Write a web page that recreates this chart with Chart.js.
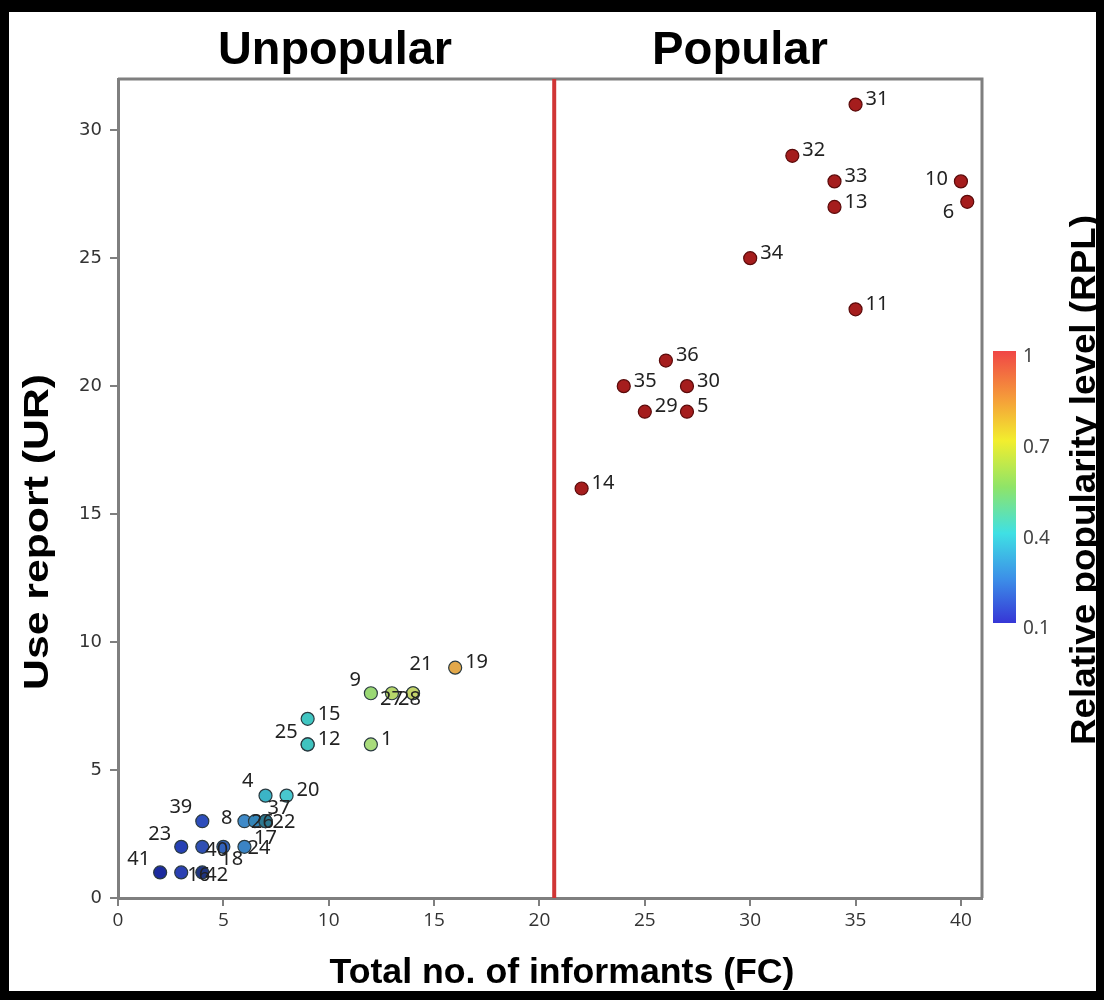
<!DOCTYPE html>
<html><head><meta charset="utf-8">
<script src="https://cdn.jsdelivr.net/npm/chart.js@4"></script>
<style>
html,body{margin:0;padding:0;background:#fff;}
#wrap{position:relative;width:1104px;height:1000px;overflow:hidden;}
canvas{position:absolute;left:0;top:0;}
#frame{position:absolute;left:0;top:0;width:1104px;height:1000px;box-sizing:border-box;border-style:solid;border-color:#000;border-width:12px 8px 9px 9px;pointer-events:none;}
</style></head><body>
<div id="wrap"><canvas id="c" width="1104" height="1000"></canvas><div id="frame"></div></div>
<script>
// ---- data ----
const ids = ['31','32','33','13','10','6','34','11','36','35','30','29','5','14',
             '19','21','28','27','9','15','12','25','1','4','20','39','8','26','22','37','17','23','40','18','24','41','16','42'];
const fc  = [35,32,34,34,40,40.3,30,35,26,24,27,25,27,22,
             16,14,14,13,12,9,9,9,12,7,8,4,6,6.5,7,7,7,3,4,5,6,2,3,4];
const ur  = [31,29,28,27,28,27.2,25,23,21,20,20,19,19,16,
             9,8,8,8,8,7,6,6,6,4,4,3,3,3,3,3,3,2,2,2,2,1,1,1];
const dotColors = ['#a51d1d','#a51d1d','#a51d1d','#a51d1d','#a51d1d','#a51d1d','#a51d1d','#a51d1d','#a51d1d','#a51d1d','#a51d1d','#a51d1d','#a51d1d','#a51d1d',
             '#e2a84a','#c4d46a','#c4d46a','#b6d66a','#9ad874','#40c6c2','#3fc3bf','#3fc3bf','#a9dc7c','#3bb4c6','#48c8cf','#2d4dbb','#3f8ac8','#3485b8','#2c7890','#2c7890','#2c7890','#2540b4','#2f4fb3','#3262bb','#3b84c5','#1b2a9e','#2a40b2','#1f3580'];
const xTicks = [0,5,10,15,20,25,30,35,40];
const yTicks = [0,5,10,15,20,25,30];
const xRange = [0,41];
const yRange = [0,32];
const divideFC = 20.7;
const rplTicks = ['1','0.7','0.4','0.1'];
const rplRange = [1,0.1];
const groupTitles = ['Unpopular','Popular'];
const xTitle = 'Total no. of informants (FC)';
const yTitle = 'Use report (UR)';
const cbTitle = 'Relative popularity level (RPL)';

// ---- label placement (style) ----
const labelPlace = {
  '10':[-13,-2,'right'], '6':[-13,10,'right'], '9':[-10,-13,'right'], '21':[8,-29,'center'],
  '27':[-12,6,'left'], '28':[-15,6,'left'], '25':[-10,-12,'right'], '4':[-12,-14,'right'],
  '37':[2,-13,'left'], '39':[-10,-14,'right'], '8':[-12,-3,'right'], '26':[-4,1,'left'],
  '22':[7,1,'left'], '17':[0,17,'center'], '23':[-10,-13,'right'], '40':[3,3,'left'],
  '18':[-3,12,'left'], '24':[3,1,'left'], '41':[-10,-13,'right'], '16':[6,3,'left'], '42':[3,3,'left']
};
const defaultPlace = [10,-5,'left'];

const points = ids.map((id,i)=>({x:fc[i], y:ur[i], id}));
const AXIS = '#7f7f7f';

function stretchedText(ctx, text, x, y, targetLen){
  const w = ctx.measureText(text).width;
  ctx.save();
  ctx.translate(x, y);
  ctx.scale(targetLen / w, 1);
  ctx.fillText(text, 0, 0);
  ctx.restore();
}

const decor = {
  id:'decor',
  beforeDatasetsDraw(chart){
    const {ctx, chartArea:a} = chart;
    ctx.save();
    ctx.strokeStyle = AXIS; ctx.lineWidth = 3;
    ctx.beginPath();
    ctx.moveTo(a.left, a.top); ctx.lineTo(a.right, a.top); ctx.lineTo(a.right, a.bottom);
    ctx.stroke();
    ctx.restore();
  },
  afterDraw(chart){
    const {ctx, chartArea:a} = chart;
    ctx.save();
    // point labels
    const meta = chart.getDatasetMeta(1);
    ctx.font = '20px "Noto Sans"';
    ctx.fillStyle = '#222';
    ctx.textBaseline = 'middle';
    meta.data.forEach((el,i)=>{
      const id = ids[i];
      const p = labelPlace[id] || defaultPlace;
      ctx.textAlign = p[2];
      ctx.fillText(id, el.x + p[0], el.y + p[1]);
    });
    // group titles
    ctx.fillStyle = '#000';
    ctx.font = 'bold 46px "Liberation Sans"';
    ctx.textAlign = 'center'; ctx.textBaseline = 'alphabetic';
    stretchedText(ctx, groupTitles[0], 335, 64, 234);
    stretchedText(ctx, groupTitles[1], 740, 64, 176);
    // axis titles
    ctx.font = 'bold 35px "Liberation Sans"';
    stretchedText(ctx, xTitle, 562, 983, 465);
    ctx.save();
    ctx.translate(38, 532); ctx.rotate(-Math.PI/2);
    ctx.textBaseline = 'middle';
    stretchedText(ctx, yTitle, 0, 0, 316);
    ctx.restore();
    ctx.save();
    ctx.translate(1085, 480); ctx.rotate(-Math.PI/2);
    ctx.textBaseline = 'middle';
    stretchedText(ctx, cbTitle, 0, 0, 530);
    ctx.restore();
    // colorbar
    const cbx = 993, cbw = 23, cbTop = 351, cbBot = 623;
    const g = ctx.createLinearGradient(0, cbTop, 0, cbBot);
    g.addColorStop(0, '#f04646');
    g.addColorStop(0.17, '#f59a3a');
    g.addColorStop(0.33, '#f2ee2e');
    g.addColorStop(0.5, '#8fe468');
    g.addColorStop(0.67, '#3fe0e4');
    g.addColorStop(0.84, '#3c8ee8');
    g.addColorStop(1, '#3636d6');
    ctx.fillStyle = g;
    ctx.fillRect(cbx, cbTop, cbw, cbBot-cbTop);
    ctx.font = '19px "Noto Sans"';
    ctx.fillStyle = '#444';
    ctx.textAlign = 'left'; ctx.textBaseline = 'middle';
    rplTicks.forEach(t=>{
      const v = parseFloat(t);
      const y = cbTop + (rplRange[0]-v)/(rplRange[0]-rplRange[1])*(cbBot-cbTop);
      ctx.fillText(t, 1023, y + 6);
    });
    ctx.restore();
  }
};

new Chart(document.getElementById('c'), {
  type:'scatter',
  data:{datasets:[
    {type:'line', data:[{x:divideFC,y:yRange[0]},{x:divideFC,y:yRange[1]}], borderColor:'#d03535', borderWidth:4, pointRadius:0, order:2},
    {data:points, backgroundColor:dotColors, borderColor: dotColors.map(c=> c==='#a51d1d' ? '#5a0a0a' : '#2a3a40'), borderWidth:1.2, pointRadius:6.5, order:1}
  ]},
  options:{
    responsive:false, devicePixelRatio:1, animation:false,
    layout:{padding:{top:79, right:122, left:0, bottom:0}},
    plugins:{legend:{display:false}, tooltip:{enabled:false}},
    scales:{
      x:{type:'linear', min:xRange[0], max:xRange[1],
         afterBuildTicks:s=>{s.ticks = xTicks.map(v=>({value:v}));},
         afterFit:s=>{s.height = 102;},
         ticks:{font:{family:'Open Sans', size:19}, color:'#333', padding:3, maxRotation:0, autoSkip:false},
         grid:{drawOnChartArea:false, drawTicks:true, tickLength:8, color:AXIS, lineWidth:2},
         border:{display:true, color:AXIS, width:3}},
      y:{type:'linear', min:yRange[0], max:yRange[1],
         afterBuildTicks:s=>{s.ticks = yTicks.map(v=>({value:v}));},
         afterFit:s=>{s.width = 118;},
         ticks:{font:{family:'DejaVu Sans', size:18}, color:'#333', padding:8, autoSkip:false},
         grid:{drawOnChartArea:false, drawTicks:true, tickLength:8, color:AXIS, lineWidth:2},
         border:{display:true, color:AXIS, width:3}}
    }
  },
  plugins:[decor]
});
</script>
</body></html>
